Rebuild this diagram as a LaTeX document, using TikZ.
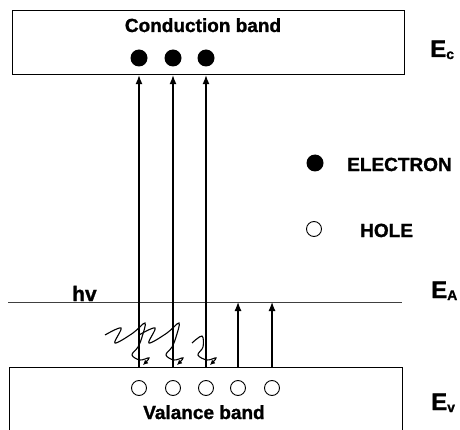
\documentclass[tikz,border=0pt]{standalone}
\usepackage{fontspec}
\setmainfont{Liberation Sans}[BoldFeatures={FakeBold=1.2}]
\usepackage{tikz}
\usetikzlibrary{arrows.meta,calc,positioning}
\tikzset{
  bandbox/.style={draw=black, line width=1.2pt, rectangle, inner sep=0pt},
  transition/.style={black, -{Latex[length=9pt,width=7pt]}, line width=1.2pt},
  photonline/.style={black, -{Latex[length=5pt,width=5pt]}, line width=1.1pt},
  levelline/.style={black!75, line width=0.8pt},
  electronpt/.style={circle, fill=black, inner sep=0pt, minimum size=17pt},
  holept/.style={circle, draw=black, line width=0.9pt, inner sep=0pt, minimum size=15pt},
  bandlabel/.style={font=\bfseries\fontsize{19}{22}\selectfont, inner sep=0pt},
  energylabel/.style={font=\bfseries\fontsize{24}{26}\selectfont, inner sep=0pt, anchor=base west}
}
\newcommand{\energy}[1]{E\raisebox{-2pt}{\fontsize{14}{14}\selectfont #1}}
\newcommand{\photonwave}[2]{%
  \draw[photonline, shift={(#1)}] plot[smooth, tension=0.6] coordinates {#2};}

\begin{document}
\begin{tikzpicture}[x=1pt, y=1pt]
  \useasboundingbox (0,0) rectangle (460,429);
  \clip (0,0) rectangle (460,429);
  % bands
  \node[bandbox, anchor=north west, minimum width=392pt, minimum height=64pt] (cb) at (12,419) {};
  \node[bandbox, anchor=north west, minimum width=393pt, minimum height=100pt] (vb) at (9,62) {};
  \node[bandlabel, anchor=base] (cbtext) at (203,397) {Conduction band};
  \node[bandlabel, anchor=base] (vbtext) at (204,10) {Valance band};
  % acceptor level
  \coordinate (eaL) at (8,127);
  \coordinate (eaR) at (402,127);
  \draw[levelline] (eaL) -- (eaR);
  \node[bandlabel, anchor=base west, font=\bfseries\fontsize{21}{22}\selectfont] (hv) at (72,128) {hv};
  % electrons and holes
  \foreach \x [count=\i] in {139,173,206} {
    \node[electronpt] (e\i) at (\x,371) {};
  }
  \foreach \x [count=\i] in {139,173,206,238,272} {
    \node[holept] (h\i) at (\x,41) {};
  }
  % transitions
  \foreach \i in {1,2,3} {
    \draw[transition] (vb.north -| h\i) -- (cb.south -| h\i);
  }
  \foreach \i in {4,5} {
    \draw[transition] (vb.north -| h\i) -- (eaL -| h\i);
  }
  % photons
  \photonwave{h1 |- vb.north}{(-34,32) (-18,39) (-24,24) (-6,34) (6,44) (3,30) (-1,20) (-7,12) (1,7) (10,9) (4,2)}
  \photonwave{h2 |- vb.north}{(-34,32) (-18,39) (-24,24) (-6,34) (6,44) (3,30) (-1,20) (-7,12) (1,7) (10,9) (4,2)}
  \photonwave{h3 |- vb.north}{(-14,24) (-4,31) (-3,20) (-8,12) (1,7) (10,9) (4,2)}
  % energy levels
  \node[energylabel] (ec) at (430,372) {\energy{c}};
  \node[energylabel] (ea) at (431,131) {\energy{A}};
  \node[energylabel] (ev) at (431,19) {\energy{v}};
  % legend
  \node[electronpt] (legE) at (315,266) {};
  \node[bandlabel, anchor=base west] (legEtext) at (347,258) {ELECTRON};
  \node[holept] (legH) at (314,200) {};
  \node[bandlabel, anchor=base west] (legHtext) at (360,192) {HOLE};
\end{tikzpicture}
\end{document}
